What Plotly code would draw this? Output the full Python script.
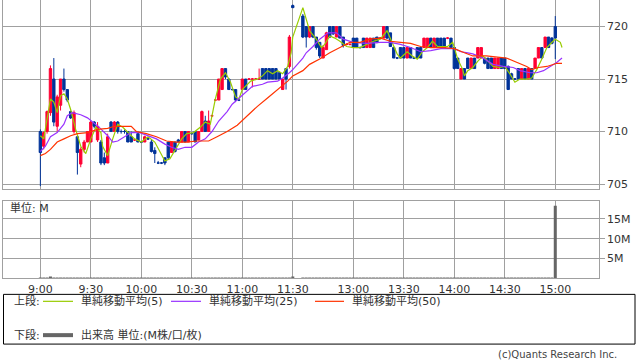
import plotly.graph_objects as go

# ---------------- data ----------------
bar_time = ["9:00","9:02","9:04","9:06","9:08","9:10","9:12","9:14","9:16","9:18",
            "9:20","9:22","9:24","9:26","9:28","9:30","9:32","9:34","9:36","9:38",
            "9:40","9:42","9:44","9:46","9:48","9:50","9:52","9:54","9:56","9:58",
            "10:00","10:02","10:04","10:06","10:08","10:10","10:12","10:14","10:16","10:18",
            "10:20","10:22","10:24","10:26","10:28","10:30","10:32","10:34","10:36","10:38",
            "10:40","10:42","10:44","10:46","10:48","10:50","10:52","10:54","10:56","10:58",
            "11:00","11:02","11:04","11:06","11:08","11:10","11:12","11:14","11:16","11:18",
            "11:20","11:22","11:24","11:26","11:28","11:30",
            "12:30","12:32","12:34","12:36","12:38","12:40","12:42","12:44","12:46","12:48",
            "12:50","12:52","12:54","12:56","12:58","13:00","13:02","13:04","13:06","13:08",
            "13:10","13:12","13:14","13:16","13:18","13:20","13:22","13:24","13:26","13:28",
            "13:30","13:32","13:34","13:36","13:38","13:40","13:42","13:44","13:46","13:48",
            "13:50","13:52","13:54","13:56","13:58","14:00","14:02","14:04","14:06","14:08",
            "14:10","14:12","14:14","14:16","14:18","14:20","14:22","14:24","14:26","14:28",
            "14:30","14:32","14:34","14:36","14:38","14:40","14:42","14:44","14:46","14:48",
            "14:50","14:52","14:54","14:56","14:58","15:00"]

bar_open = [710.0,708.6,710.0,711.8,715.0,710.5,712.5,715.0,714.0,711.9,
            710.0,709.5,706.9,708.3,709.0,709.0,710.9,709.2,709.0,707.5,
            707.0,710.9,710.0,710.9,710.0,710.0,710.0,709.5,709.2,709.8,
            709.0,709.0,709.3,709.0,708.2,707.0,707.0,707.5,709.0,708.0,
            709.0,709.2,709.0,710.0,709.0,709.8,710.0,709.2,710.0,711.0,
            710.0,711.5,713.0,713.0,714.0,716.0,715.0,714.0,714.0,713.0,
            714.0,715.0,715.0,715.0,715.0,715.0,716.0,716.0,716.0,716.0,
            716.0,715.6,714.0,716.0,716.2,722.0,
            721.0,720.0,719.0,720.0,719.0,718.5,717.0,717.8,720.0,720.0,
            719.0,720.0,719.0,718.3,718.3,718.9,718.9,718.0,718.9,718.0,
            718.0,718.9,719.0,718.9,718.9,720.0,719.4,718.0,717.0,718.0,
            718.0,717.0,718.0,717.0,718.0,718.0,718.0,718.0,718.9,718.0,
            718.9,718.9,718.9,718.9,718.9,718.0,717.0,715.0,716.0,717.0,
            716.0,717.0,717.0,717.0,717.0,717.0,717.0,716.0,716.0,717.0,
            717.0,716.2,715.5,715.0,716.0,715.0,716.0,715.0,716.0,716.0,
            717.0,718.0,718.0,719.0,718.9,720.0]

bar_high = [710.2,710.0,712.0,716.3,717.0,713.5,715.0,716.0,714.0,712.0,
            712.0,709.5,708.5,709.2,710.0,711.0,711.0,710.9,709.2,708.0,
            709.8,711.0,711.0,711.0,710.2,710.2,710.0,710.0,709.3,710.0,
            709.1,709.6,709.4,709.2,708.5,707.2,707.1,707.5,709.0,709.0,
            709.0,709.3,710.0,710.0,710.0,709.9,710.0,710.0,712.0,711.5,
            712.0,711.6,713.1,715.0,716.0,716.0,715.0,714.1,714.0,713.1,
            715.0,715.0,715.1,715.1,715.1,716.0,716.0,716.0,716.0,716.0,
            716.0,715.7,715.0,716.0,719.2,722.1,
            721.2,720.0,720.0,720.0,719.0,718.5,718.2,719.5,720.0,720.0,
            720.0,720.0,719.0,718.4,718.4,718.9,718.9,718.1,718.9,718.9,
            718.9,718.9,719.0,719.0,720.0,720.0,719.4,718.1,717.1,718.0,
            718.0,718.0,718.0,717.1,718.0,718.0,718.9,718.9,718.9,718.9,
            718.9,718.9,718.9,719.0,718.9,718.0,717.0,716.0,716.0,717.0,
            717.0,717.0,718.0,718.0,717.1,717.0,717.0,717.0,717.0,717.0,
            717.0,716.3,715.6,715.1,716.0,716.0,716.0,716.0,716.0,717.0,
            718.0,718.0,719.0,719.0,719.0,721.0]

bar_low = [704.8,708.3,709.8,711.5,710.5,710.0,712.0,713.8,712.8,711.2,
           709.8,705.9,706.6,708.0,709.0,709.0,710.3,709.0,706.8,706.8,
           707.0,710.0,710.0,709.8,709.8,709.8,709.0,709.0,709.1,709.0,
           708.9,709.0,709.2,708.0,707.0,706.9,706.9,706.8,707.3,708.0,
           708.0,709.0,709.0,709.0,709.0,709.7,709.0,709.2,710.0,710.0,
           710.0,711.4,712.9,713.0,714.0,715.0,714.0,713.9,712.8,712.9,
           714.0,714.0,714.9,714.2,714.9,715.0,715.0,715.0,715.0,715.0,
           715.0,715.0,714.0,714.0,716.0,721.8,
           718.9,718.0,718.9,718.9,717.8,717.0,717.0,717.8,718.9,719.2,
           719.0,718.9,718.0,718.2,718.2,718.0,718.0,717.9,718.0,718.0,
           718.0,718.0,718.4,718.8,718.9,718.8,718.1,717.0,716.9,717.0,
           717.0,717.0,717.0,716.9,717.0,717.0,718.0,718.0,718.0,718.0,
           718.0,718.0,718.0,718.8,718.0,715.9,716.0,715.0,715.0,716.0,
           716.0,716.0,717.0,717.0,716.4,716.0,716.0,716.0,716.0,716.0,
           716.0,714.0,715.0,714.9,715.0,715.0,715.0,715.0,715.0,716.0,
           717.0,717.0,718.0,718.0,718.3,716.9]

bar_close = [708.0,709.9,711.9,716.0,710.9,713.3,715.0,714.0,713.0,711.3,
             711.8,708.0,708.3,709.0,710.0,710.9,710.5,710.5,707.0,707.0,
             709.5,710.0,710.9,710.0,710.0,710.0,709.0,709.0,709.2,709.0,
             709.0,709.5,709.3,708.1,707.9,707.0,707.0,707.0,707.5,709.0,
             708.1,709.0,710.0,709.0,710.0,709.8,709.0,710.0,711.9,710.0,
             711.0,711.5,713.0,715.0,716.0,715.2,714.0,714.0,713.0,713.0,
             715.0,714.0,715.0,715.0,715.0,715.0,715.0,715.0,715.0,715.0,
             715.0,715.0,715.0,715.0,719.0,721.8,
             719.0,719.0,720.0,719.0,718.0,717.2,718.0,719.4,719.0,719.3,
             720.0,718.9,718.2,718.3,718.3,718.0,718.0,718.0,718.0,718.9,
             718.9,718.0,718.5,718.9,720.0,718.9,718.1,717.0,717.0,717.0,
             717.0,718.0,717.0,717.0,717.0,717.0,718.9,718.9,718.0,718.9,
             718.0,718.0,718.0,718.9,718.0,716.0,716.0,716.0,715.0,716.0,
             717.0,716.0,718.0,718.0,716.5,716.0,716.0,717.0,717.0,716.0,
             716.0,714.0,715.0,715.0,715.0,716.0,715.0,716.0,715.0,717.0,
             718.0,717.0,719.0,718.0,718.4,718.9]

# volume in millions of shares
bar_volume = [0.08,0.06,0.05,0.35,0.06,0.05,0.04,0.05,0.04,0.03,
              0.04,0.05,0.04,0.03,0.03,0.04,0.03,0.03,0.04,0.03,
              0.03,0.03,0.02,0.03,0.02,0.02,0.02,0.02,0.02,0.02,
              0.03,0.02,0.02,0.02,0.03,0.02,0.02,0.02,0.03,0.02,
              0.02,0.02,0.03,0.02,0.02,0.02,0.02,0.02,0.03,0.02,
              0.02,0.02,0.03,0.04,0.04,0.03,0.03,0.02,0.03,0.02,
              0.03,0.02,0.02,0.02,0.02,0.02,0.02,0.02,0.02,0.02,
              0.02,0.02,0.03,0.03,0.06,0.25,
              0.06,0.04,0.03,0.03,0.03,0.03,0.02,0.03,0.02,0.02,
              0.02,0.02,0.02,0.02,0.02,0.02,0.02,0.02,0.02,0.02,
              0.02,0.02,0.02,0.02,0.03,0.02,0.02,0.02,0.02,0.02,
              0.02,0.02,0.02,0.02,0.02,0.02,0.02,0.02,0.02,0.02,
              0.02,0.02,0.02,0.02,0.02,0.03,0.03,0.02,0.02,0.02,
              0.02,0.02,0.02,0.02,0.02,0.02,0.02,0.02,0.02,0.02,
              0.02,0.03,0.02,0.02,0.02,0.02,0.02,0.02,0.02,0.03,
              0.03,0.03,0.03,0.03,0.04,18.3]

ma5_time = ["9:00","9:02","9:04","9:06","9:08","9:10","9:12","9:14","9:16","9:18",
            "9:21","9:24","9:27","9:30","9:33","9:36","9:37","9:40","9:43","9:46",
            "9:49","9:52","9:56","10:00","10:04","10:08","10:11","10:14","10:17","10:20",
            "10:24","10:27","10:31","10:35","10:38","10:41","10:44","10:47","10:50","10:53",
            "10:56","10:58","11:00","11:05","11:09","11:12","11:15","11:18","11:21","11:24",
            "11:27","11:29","11:30","12:30","12:32","12:34","12:38","12:41","12:43","12:46",
            "12:49","12:52","12:56","13:00","13:04","13:08","13:12","13:16","13:20","13:23",
            "13:26","13:28","13:32","13:35","13:38","13:41","13:44","13:47","13:50","13:56",
            "13:59","14:00","14:02","14:05","14:06","14:08","14:11","14:14","14:17","14:20",
            "14:23","14:27","14:30","14:33","14:36","14:39","14:43","14:46","14:49","14:52",
            "14:55","14:58","15:00","15:03","15:04"]
ma5_val = [709.6,709.3,711.2,713.1,712.8,711.8,713.4,713.6,713.1,712.1,
           710.2,708.6,707.9,709.3,710.4,709.9,708.6,707.7,709.3,710.7,
           710.4,709.9,709.3,709.0,709.5,709.0,708.1,707.2,707.4,708.2,
           709.3,709.8,709.9,710.4,710.9,710.7,713.1,715.0,715.6,714.7,
           713.3,713.1,714.0,714.8,715.0,715.3,715.8,715.5,715.8,715.5,
           716.2,717.5,719.0,721.8,720.6,719.6,718.8,718.0,718.3,719.1,
           718.9,718.6,718.1,718.0,718.0,718.3,718.6,718.8,719.6,718.5,
           717.4,717.0,717.6,717.2,716.9,717.6,718.0,718.6,718.1,718.1,
           718.5,718.0,716.9,715.9,715.3,715.8,716.1,716.7,717.2,716.7,
           716.2,716.1,716.2,715.5,714.7,715.0,715.0,715.1,715.9,716.9,
           718.0,718.5,718.8,718.5,718.0]

ma25_time = ["9:00","9:03","9:06","9:10","9:14","9:16","9:19","9:24","9:28","9:31",
             "9:35","9:40","9:43","9:46","9:50","9:54","9:59","10:04","10:09","10:14",
             "10:18","10:22","10:26","10:30","10:34","10:38","10:42","10:46","10:51","10:54",
             "10:59","11:03","11:06","11:12","11:15","11:21","11:24","11:28","11:30","12:30",
             "12:32","12:36","12:40","12:45","12:50","12:54","13:00","13:08","13:16","13:22",
             "13:28","13:34","13:40","13:46","13:52","14:00","14:04","14:08","14:11","14:17",
             "14:23","14:29","14:35","14:39","14:45","14:49","14:53","14:57","15:01","15:04"]
ma25_val = [708.1,708.6,709.5,709.9,710.7,711.5,711.8,711.6,711.3,710.9,
            710.4,709.6,709.0,709.1,709.5,709.9,709.9,709.6,709.3,708.8,
            708.5,708.3,708.5,708.5,709.0,709.3,710.0,711.0,711.9,712.6,
            713.3,713.8,714.3,714.5,714.7,714.8,715.1,715.6,715.9,717.0,
            717.5,718.1,718.8,719.4,719.4,718.8,718.5,718.4,718.5,718.5,
            718.3,718.0,717.6,717.7,717.9,717.9,717.6,717.5,717.4,717.0,
            716.4,716.2,716.1,715.8,715.6,715.6,715.8,716.2,716.6,717.0]

ma50_time = ["9:00","9:03","9:06","9:10","9:14","9:18","9:22","9:28","9:34","9:40",
             "9:44","9:49","9:54","9:57","10:03","10:09","10:15","10:21","10:27","10:33",
             "10:40","10:45","10:51","10:57","11:03","11:09","11:15","11:21","11:27","11:30",
             "12:30","12:34","12:40","12:46","12:52","12:58","13:04","13:10","13:16","13:22",
             "13:28","13:34","13:40","13:46","13:54","14:00","14:06","14:11","14:19","14:27",
             "14:31","14:37","14:43","14:46","14:50","14:55","15:01","15:04"]
ma50_val = [707.7,707.9,708.3,709.0,709.3,709.6,709.8,709.9,710.2,710.3,
            710.5,710.5,710.5,710.0,709.8,709.5,709.1,709.0,709.0,709.1,
            709.1,709.5,710.0,710.6,711.5,712.4,713.2,714.0,714.8,715.3,
            715.8,716.4,716.9,717.5,718.0,718.5,718.5,718.8,718.9,718.6,
            718.5,718.4,718.1,718.0,718.0,717.9,717.5,717.2,717.2,717.1,
            717.0,716.6,716.2,715.9,716.1,716.2,716.5,716.5]

tick_text = ["9:00","9:30","10:00","10:30","11:00","11:30","13:00","13:30","14:00","14:30","15:00"]
price_ticks = [705, 710, 715, 720]
vol_ticks = [5, 10, 15]
vol_tick_text = ["5M", "10M", "15M"]

legend_ma = ["単純移動平均(5)", "単純移動平均(25)", "単純移動平均(50)"]
legend_vol = "出来高 単位:(M株/口/枚)"


def slot(t):
    """minutes from 9:00, with the lunch break compressed"""
    h, m = map(int, t.split(":"))
    mins = h * 60 + m
    if mins <= 11 * 60 + 30:
        return mins - 9 * 60
    return mins - (12 * 60 + 30) + 156


W, H = 638, 362
GRID = "#a0a0a0"
TXT = "#333333"
FONT = "DejaVu Sans, Noto Sans CJK JP, sans-serif"
C_MA5, C_MA25, C_MA50 = "#99cc00", "#9933ff", "#ff3300"
C_UP, C_DN = "#ff0033", "#003399"

bx = [slot(t) for t in bar_time]

fig = go.Figure()
fig.add_trace(go.Candlestick(
    x=bx, open=bar_open, high=bar_high, low=bar_low, close=bar_close,
    increasing=dict(line=dict(color=C_UP, width=1), fillcolor=C_UP),
    decreasing=dict(line=dict(color=C_DN, width=1), fillcolor=C_DN),
    whiskerwidth=0, xaxis="x", yaxis="y", showlegend=False, hoverinfo="skip"))

for tt, vv, col in [(ma5_time, ma5_val, C_MA5), (ma25_time, ma25_val, C_MA25),
                    (ma50_time, ma50_val, C_MA50)]:
    fig.add_trace(go.Scatter(x=[slot(t) for t in tt], y=vv, mode="lines",
                             line=dict(color=col, width=1.2), xaxis="x", yaxis="y",
                             showlegend=False, hoverinfo="skip"))

fig.add_trace(go.Bar(x=bx, y=bar_volume, marker=dict(color="#666666", line=dict(width=0)),
                     width=1.8, xaxis="x2", yaxis="y2", showlegend=False, hoverinfo="skip"))

xr = [-22.2, 331.8]
xdom = [3 / W, 598.7 / W]
tv = [slot(t) for t in tick_text]

def py(p):
    return 1 - p / H

fig.update_layout(
    width=W, height=H, margin=dict(l=0, r=0, t=0, b=0),
    paper_bgcolor="white", plot_bgcolor="white",
    font=dict(family=FONT, size=11, color=TXT),
    boxgap=0.3, boxgroupgap=0,
    xaxis=dict(domain=xdom, range=xr, anchor="y", tickvals=tv, showticklabels=False,
               showgrid=True, gridcolor=GRID, gridwidth=1, zeroline=False,
               showline=True, linecolor=GRID, linewidth=1, mirror=False,
               rangeslider=dict(visible=False), fixedrange=True),
    yaxis=dict(domain=[py(190), py(0)], range=[704.53, 722.53], side="right",
               tickvals=price_ticks, ticks="outside", ticklen=5, tickcolor=GRID,
               showgrid=True, gridcolor=GRID, gridwidth=1, zeroline=False,
               showline=True, linecolor=GRID, linewidth=1, mirror=True,
               tickfont=dict(size=11, color=TXT)),
    xaxis2=dict(domain=xdom, range=xr, anchor="y2", tickvals=tv, ticktext=tick_text,
                ticks="", showgrid=True, gridcolor=GRID, gridwidth=1, zeroline=False,
                showline=True, linecolor=GRID, linewidth=1, mirror=True,
                tickfont=dict(size=11, color=TXT)),
    yaxis2=dict(domain=[py(280), py(201.7)], range=[0, 19.6], side="right",
                tickvals=vol_ticks, ticktext=vol_tick_text, ticks="outside", ticklen=5,
                tickcolor=GRID, showgrid=True, gridcolor=GRID, gridwidth=1,
                zeroline=False, showline=True, linecolor=GRID, linewidth=1, mirror=True,
                tickfont=dict(size=11, color=TXT)),
)

ann = []
shapes = []
ann.append(dict(text="単位: M", x=8 / W, y=py(209.5), xref="paper", yref="paper",
                xanchor="left", yanchor="middle", showarrow=False, font=dict(size=11)))

# legend box
shapes.append(dict(type="rect", xref="paper", yref="paper", x0=3.5 / W, x1=635 / W,
                   y0=py(346), y1=py(296), line=dict(color="#000000", width=1)))
ann.append(dict(text="上段:", x=12 / W, y=py(303), xref="paper", yref="paper",
                xanchor="left", yanchor="middle", showarrow=False, font=dict(size=11)))
ann.append(dict(text="下段:", x=12 / W, y=py(337), xref="paper", yref="paper",
                xanchor="left", yanchor="middle", showarrow=False, font=dict(size=11)))
for (x0, x1, xt), col, lab in zip([(43, 73, 79), (171, 201, 207), (315, 344, 350)],
                                  [C_MA5, C_MA25, C_MA50], legend_ma):
    shapes.append(dict(type="line", xref="paper", yref="paper", x0=x0 / W, x1=x1 / W,
                       y0=py(303), y1=py(303), line=dict(color=col, width=1.2)))
    ann.append(dict(text=lab, x=xt / W, y=py(303), xref="paper", yref="paper",
                    xanchor="left", yanchor="middle", showarrow=False, font=dict(size=11)))
shapes.append(dict(type="line", xref="paper", yref="paper", x0=43 / W, x1=73 / W,
                   y0=py(337), y1=py(337), line=dict(color="#666666", width=4)))
ann.append(dict(text=legend_vol, x=79 / W, y=py(337), xref="paper", yref="paper",
                xanchor="left", yanchor="middle", showarrow=False, font=dict(size=11)))
ann.append(dict(text="(c)Quants Research Inc.", x=619 / W, y=py(356.5), xref="paper",
                yref="paper", xanchor="right", yanchor="middle", showarrow=False,
                font=dict(size=10, color="#444444")))

fig.update_layout(annotations=ann, shapes=shapes)
fig.write_html("out.html")
